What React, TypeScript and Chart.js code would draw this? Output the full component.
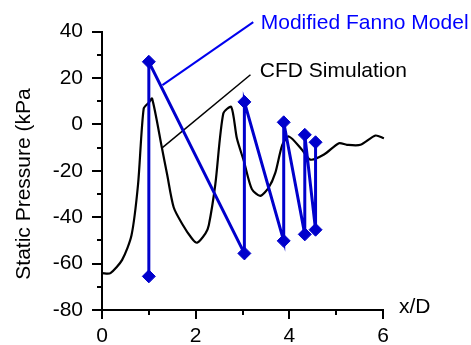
import React, { useEffect, useRef } from 'react';
import { Chart, registerables } from 'chart.js';

Chart.register(...registerables);

// CFD Simulation curve
const cfdX = [0, 0.18, 0.43, 0.63, 0.77, 0.89, 1.0, 1.07, 1.28, 1.39, 1.53, 1.71, 1.92, 2.03, 2.21, 2.28, 2.42, 2.59, 2.76, 2.88, 3.03, 3.2, 3.38, 3.56, 3.7, 3.85, 3.99, 4.27, 4.45, 4.74, 5.06, 5.23, 5.52, 5.84, 6.02];
const cfdY = [-64.1, -64.1, -58.4, -47.8, -25.8, 6.8, 9.4, 11.1, -10.2, -21.5, -35.7, -42.8, -49.2, -51, -47, -43.5, -25.8, 4.7, 7.5, -6, -15.9, -27.9, -30.8, -27.2, -20.9, -8.8, -5.2, -10.9, -15.2, -13, -8.1, -8.8, -8.8, -4.8, -6];

// Modified Fanno Model (zig-zag)
const fannoX = [1.0, 1.0, 3.04, 3.04, 3.88, 3.88, 4.33, 4.33, 4.56, 4.56];
const fannoY = [-65.5, 27, -55.6, 9.7, -50.2, 0.9, -47.4, -4.5, -45.4, -7.7];

// Callout leader lines (data coordinates)
const fannoLeaderX = [1.29, 3.23];
const fannoLeaderY = [16.9, 44.1];
const cfdLeaderX = [1.29, 3.17];
const cfdLeaderY = [-10, 21.4];

// Axis ranges / ticks
const xMin = 0, xMax = 6, xStep = 1, xLabelEvery = 2;
const yMin = -80, yMax = 40, yStep = 10, yLabelEvery = 20;

// Annotation texts (data coordinates, baseline)
const annTexts = ['Modified Fanno Model', 'CFD Simulation', 'x/D'];
const annX = [3.39, 3.37, 6.34];
const annY = [41.3, 20.3, -81.1];
const annColors = ['#0000ff', '#000000', '#000000'];

const yTitle = 'Static Pressure (kPa';

const FONT = "'Liberation Sans', Arial, sans-serif";
const FS = 21;

const toPts = (xs: number[], ys: number[]) => xs.map((x, i) => ({ x, y: ys[i] }));

const decorPlugin = {
  id: 'decor',
  afterDraw(chart: any) {
    const ctx = chart.ctx;
    const xs = chart.scales.x;
    const ys = chart.scales.y;
    const area = chart.chartArea;
    ctx.save();
    ctx.strokeStyle = '#000';
    ctx.lineWidth = 2;
    ys.ticks.forEach((t: any) => {
      const p = Math.round(ys.getPixelForValue(t.value));
      const len = t.value % yLabelEvery === 0 ? 10 : 5;
      ctx.beginPath();
      ctx.moveTo(area.left - len, p);
      ctx.lineTo(area.left, p);
      ctx.stroke();
    });
    xs.ticks.forEach((t: any) => {
      const p = Math.round(xs.getPixelForValue(t.value));
      const len = t.value % xLabelEvery === 0 ? 9 : 5;
      ctx.beginPath();
      ctx.moveTo(p, area.bottom);
      ctx.lineTo(p, area.bottom + len);
      ctx.stroke();
    });
    ctx.font = `${FS}px ${FONT}`;
    ctx.textAlign = 'left';
    ctx.textBaseline = 'alphabetic';
    annTexts.forEach((txt, i) => {
      ctx.fillStyle = annColors[i];
      ctx.fillText(txt, xs.getPixelForValue(annX[i]), ys.getPixelForValue(annY[i]));
    });
    // y axis title
    ctx.fillStyle = '#000';
    ctx.translate(29.5, 184);
    ctx.rotate(-Math.PI / 2);
    ctx.textAlign = 'center';
    ctx.fillText(yTitle, 0, 0);
    ctx.restore();
  },
};

export default function App() {
  const ref = useRef<HTMLCanvasElement | null>(null);
  useEffect(() => {
    if (!ref.current) return;
    const chart = new Chart(ref.current, {
      type: 'scatter',
      data: {
        datasets: [
          {
            label: 'Modified Fanno Model',
            data: toPts(fannoX, fannoY),
            showLine: true,
            borderColor: '#0000cc',
            backgroundColor: '#0000cc',
            borderWidth: 3,
            pointStyle: 'rectRot',
            pointRadius: 6.5,
            pointBorderWidth: 1,
            pointBackgroundColor: '#0000cc',
            pointBorderColor: '#0000cc',
            tension: 0,
          },
          {
            label: 'fannoLeader',
            data: toPts(fannoLeaderX, fannoLeaderY),
            showLine: true,
            borderColor: '#0000ee',
            borderWidth: 2,
            pointRadius: 0,
            clip: false as any,
          },
          {
            label: 'cfdLeader',
            data: toPts(cfdLeaderX, cfdLeaderY),
            showLine: true,
            borderColor: '#000000',
            borderWidth: 1.5,
            pointRadius: 0,
            clip: false as any,
          },
          {
            label: 'CFD Simulation',
            data: toPts(cfdX, cfdY),
            showLine: true,
            borderColor: '#000000',
            borderWidth: 2.2,
            pointRadius: 0,
            tension: 0.25,
            clip: false as any,
          },
        ],
      },
      options: {
        responsive: false,
        animation: false,
        layout: { padding: { top: 28, right: 88, left: 0, bottom: 0 } },
        plugins: { legend: { display: false }, tooltip: { enabled: false } },
        scales: {
          x: {
            type: 'linear',
            min: xMin,
            max: xMax,
            afterFit: (s: any) => { s.height = 35; },
            grid: { display: true, drawOnChartArea: false, drawTicks: false },
            border: { display: true, color: '#000', width: 2 },
            ticks: {
              stepSize: xStep,
              autoSkip: false,
              maxRotation: 0,
              padding: 14,
              color: '#000',
              font: { family: FONT, size: FS },
              callback: (v: any) => (Number(v) % xLabelEvery === 0 ? String(v) : ''),
            },
          },
          y: {
            type: 'linear',
            min: yMin,
            max: yMax,
            afterFit: (s: any) => { s.width = 102; },
            grid: { display: true, drawOnChartArea: false, drawTicks: false },
            border: { display: true, color: '#000', width: 2 },
            ticks: {
              stepSize: yStep,
              autoSkip: false,
              padding: 19,
              color: '#000',
              font: { family: FONT, size: FS },
              callback: (v: any) => (Number(v) % yLabelEvery === 0 ? String(v) : ''),
            },
          },
        },
      },
      plugins: [decorPlugin],
    });
    return () => chart.destroy();
  }, []);
  return (
    <div style={{ position: 'fixed', left: 0, top: 0, width: 471, height: 345, background: '#fff' }}>
      <canvas ref={ref} width={471} height={345} />
    </div>
  );
}
